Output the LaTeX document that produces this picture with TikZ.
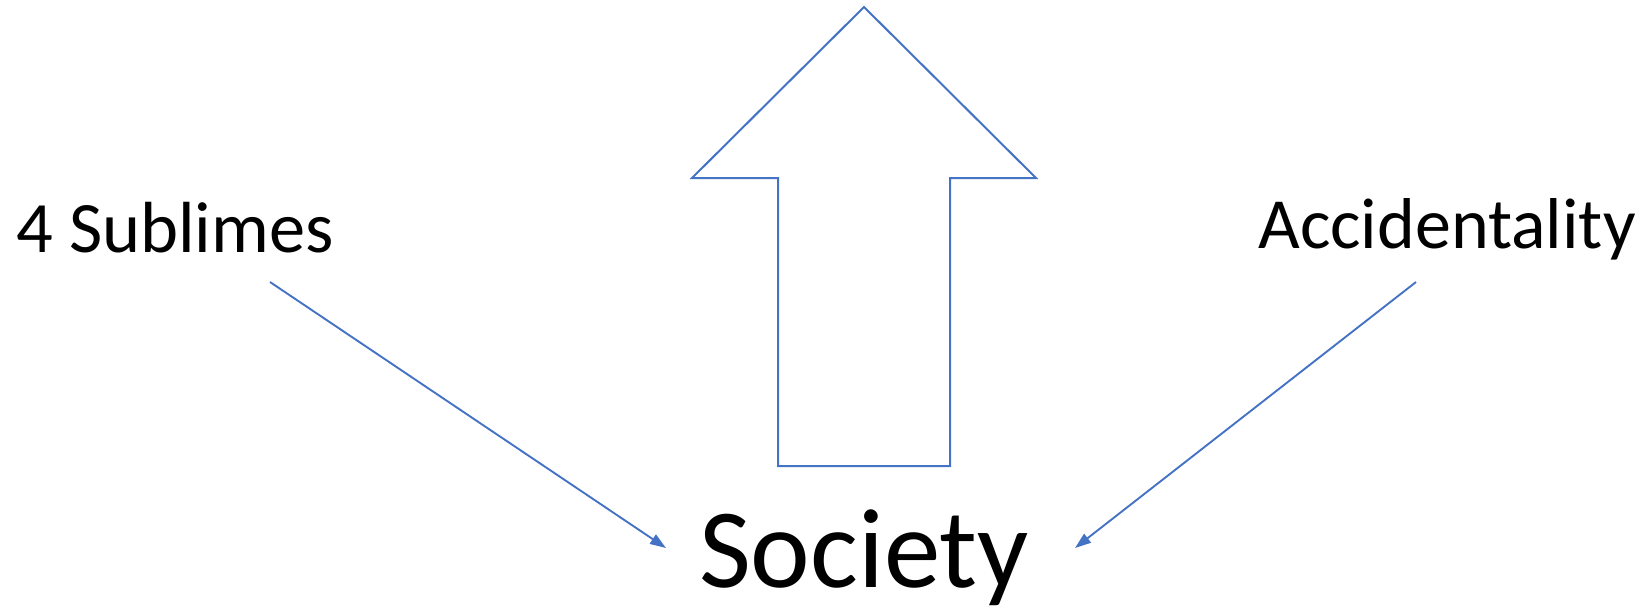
\documentclass[tikz,border=0pt]{standalone}
\usepackage{fontspec}
\setmainfont{Carlito}
\usetikzlibrary{arrows.meta}
\definecolor{acc}{HTML}{4472C4}
\begin{document}
\begin{tikzpicture}[x=0.5pt,y=-0.5pt,
  lbl/.style={inner sep=0pt,outer sep=0pt,anchor=base,text=black},
  conn/.style={draw=acc,line width=0.95pt,-{Triangle[length=8pt,width=5.5pt]}},
  bigarrow/.style={draw=acc,line width=1pt,line join=miter}]
\useasboundingbox (0,0) rectangle (1649,607);
\draw[bigarrow] (864,7) -- (1036,178) -- (950,178) -- (950,466) -- (778,466) -- (778,178) -- (692,178) -- cycle;
\node[lbl,font=\fontsize{36.2}{38}\selectfont] (subl) at (175,252) {4 Sublimes};
\node[lbl,font=\fontsize{36}{38}\selectfont] (acc) at (1447,248) {Accidentality};
\node[lbl,font=\fontsize{56.5}{60}\selectfont] (soc) at (864,587) {Society};
\coordinate (s1) at (270,282);
\coordinate (e1) at (666,548);
\coordinate (s2) at (1416,282);
\coordinate (e2) at (1075,548);
\draw[conn] (s1) -- (e1);
\draw[conn] (s2) -- (e2);
\end{tikzpicture}
\end{document}
